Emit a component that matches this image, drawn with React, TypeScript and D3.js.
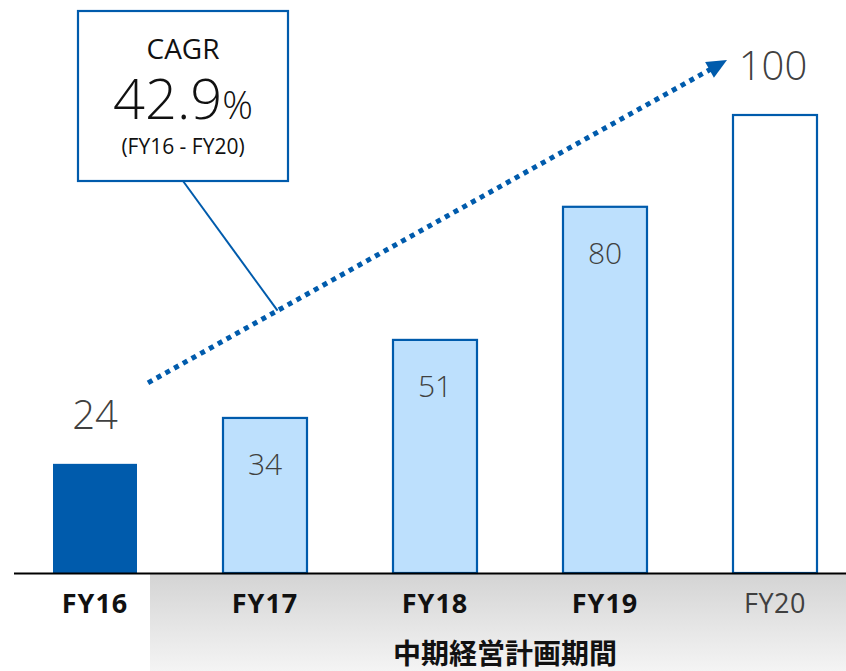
import React from "react";
import * as d3 from "d3";

const categories = ["FY16", "FY17", "FY18", "FY19", "FY20"];
const values = [24, 34, 51, 80, 100];
const cagrTitle = "CAGR";
const cagrValue = "42.9";
const cagrRange = "(FY16 - FY20)";
const periodLabel = "中期経営計画期間";

const W = 846;
const H = 671;
const BLUE = "#005bac";
const LIGHT = "#bde0fd";
const TEXT = "#404040";
const NUMFONT = "'Open Sans', 'Noto Sans', sans-serif";

export default function App() {
  const x = d3.scalePoint<string>().domain(categories).range([95, 775]);
  const bw = 86;
  const y = d3.scaleLinear().domain([0, 100]).range([573, 114]);

  const x0 = x("FY16")! + bw / 2 + 10;
  const y0 = y(values[0]) - 80;
  const x1 = x("FY20")! - 55;
  const y1 = y(values[4]) - 50;
  const ang = Math.atan2(y1 - y0, x1 - x0);
  const ah = 20;
  const aw = 9;
  const tipX = x1 + Math.cos(ang) * 8;
  const tipY = y1 + Math.sin(ang) * 8;
  const bX = tipX - Math.cos(ang) * ah;
  const bY = tipY - Math.sin(ang) * ah;
  const px = -Math.sin(ang);
  const py = Math.cos(ang);
  const arrow = `M${tipX},${tipY}L${bX + px * aw},${bY + py * aw}L${bX - px * aw},${bY - py * aw}Z`;
  const lineEndX = bX + Math.cos(ang) * 2;
  const lineEndY = bY + Math.sin(ang) * 2;

  const t = 0.23;
  const lx = x0 + (lineEndX - x0) * t;
  const ly = y0 + (lineEndY - y0) * t;

  return (
    <svg width={W} height={H} style={{ position: "absolute", left: 0, top: 0, display: "block" }}>
      <defs>
        <linearGradient id="gbg" x1="0" y1="0" x2="0" y2="1">
          <stop offset="0" stopColor="#d4d4d4" />
          <stop offset="1" stopColor="#f4f4f4" />
        </linearGradient>
      </defs>
      <rect x={0} y={0} width={W} height={H} fill="#fff" />
      <rect x={150} y={574} width={W - 150} height={H - 574} fill="url(#gbg)" />

      {categories.map((c, i) => {
        const v = values[i];
        const cx = x(c)!;
        const top = y(v);
        const fill = i === 0 ? BLUE : i === 4 ? "#fff" : LIGHT;
        return (
          <rect
            key={c}
            x={cx - bw / 2 + 1}
            y={top + 1}
            width={bw - 2}
            height={y(0) - top - 1}
            fill={fill}
            stroke={BLUE}
            strokeWidth={i === 0 ? 0 : 2.2}
          />
        );
      })}

      <line x1={14} x2={W} y1={573.5} y2={573.5} stroke="#000" strokeWidth={2} />

      {categories.map((c, i) => {
        const v = values[i];
        const cx = x(c)!;
        const top = y(v);
        const outside = i === 0 || i === 4;
        return (
          <text
            key={c + "v"}
            x={cx - (i === 4 ? 2 : 0)}
            y={outside ? top - 34 : top + 58}
            textAnchor="middle"
            fontFamily={NUMFONT}
            fontWeight={300}
            fontSize={outside ? 40 : 30}
            fill={TEXT}
          >
            {v}
          </text>
        );
      })}

      {categories.map((c, i) => (
        <text
          key={c + "l"}
          x={x(c)!}
          y={613}
          textAnchor="middle"
          fontFamily={NUMFONT}
          fontWeight={i === 4 ? 400 : 700}
          fontSize={27}
          letterSpacing={i === 4 ? 0.5 : 1}
          fill={i === 4 ? TEXT : "#111"}
        >
          {c}
        </text>
      ))}

      <text
        x={505}
        y={664}
        textAnchor="middle"
        fontFamily="'Noto Sans CJK JP', sans-serif"
        fontWeight={700}
        fontSize={28}
        fill="#111"
      >
        {periodLabel}
      </text>

      <line
        x1={x0}
        y1={y0}
        x2={lineEndX}
        y2={lineEndY}
        stroke={BLUE}
        strokeWidth={5}
        strokeDasharray="5 5"
      />
      <path d={arrow} fill={BLUE} />

      <line x1={183} y1={181} x2={lx} y2={ly} stroke={BLUE} strokeWidth={2} />
      <rect x={78} y={11} width={210} height={170} fill="#fff" stroke={BLUE} strokeWidth={2.2} />
      <text x={183} y={59} textAnchor="middle" fontFamily={NUMFONT} fontWeight={400} fontSize={28} fill="#111">
        {cagrTitle}
      </text>
      <text x={183} y={119} textAnchor="middle" fontFamily={NUMFONT} fontWeight={300} fill="#111">
        <tspan fontSize={56}>{cagrValue}</tspan>
        <tspan fontSize={38}>%</tspan>
      </text>
      <text x={183} y={154} textAnchor="middle" fontFamily={NUMFONT} fontWeight={400} fontSize={21} fill="#111">
        {cagrRange}
      </text>
    </svg>
  );
}
